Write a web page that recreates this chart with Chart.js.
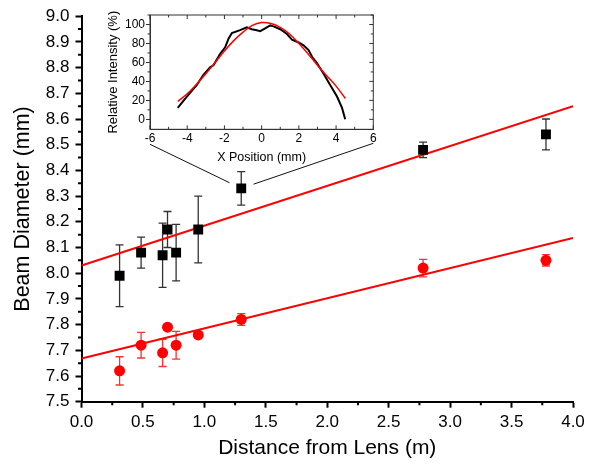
<!DOCTYPE html>
<html>
<head>
<meta charset="utf-8">
<script src="https://cdn.jsdelivr.net/npm/chart.js@4/dist/chart.umd.min.js"></script>
<style>
  body { margin: 0; background: #fff; }
  #wrap { position: relative; width: 593px; height: 467px; }
  #main { position: absolute; left: 0; top: 0; }
  #inset { position: absolute; left: 95px; top: 5px; }
</style>
</head>
<body>
<div id="wrap">
  <canvas id="main" width="593" height="467"></canvas>
  <canvas id="inset" width="290" height="165"></canvas>
</div>
<script>
// main plot: beam diameter vs distance
const distance = [0.31, 0.485, 0.66, 0.70, 0.77, 0.95, 1.30, 2.78, 3.78];
const squareDiam = [7.99, 8.08, 8.07, 8.17, 8.08, 8.17, 8.33, 8.48, 8.54];
const squareErr = [0.12, 0.06, 0.125, 0.07, 0.11, 0.13, 0.065, 0.03, 0.06];
const circleDiam = [7.62, 7.72, 7.69, 7.79, 7.72, 7.76, 7.82, 8.02, 8.05];
const circleErr = [0.055, 0.05, 0.053, 0.01, 0.054, 0.01, 0.023, 0.034, 0.022];

// linear fits
const fitDist = [0, 4];
const squareFit = [8.03, 8.65];
const circleFit = [7.668, 8.137];

// inset: beam profile at 1.3 m
const profileX = [-4.51, -4.02, -3.49, -3.13, -2.77, -2.59, -2.23, -1.96, -1.78, -1.60, -1.16, -0.80,
  -0.53, -0.26, -0.08, 0.19, 0.46, 0.64, 1.00, 1.36, 1.63, 1.99, 2.25, 2.52, 2.71, 2.98, 3.33, 3.69,
  4.05, 4.32, 4.49];
const profileI = [12, 24, 36, 47, 55, 57, 69, 76, 85, 91, 94, 97,
  95, 94, 93, 96, 99, 98, 95, 90, 84, 81, 78, 73, 66, 59, 48, 36,
  24, 12, 0];
const gaussX = [-4.5, -4, -3.5, -3, -2.5, -2, -1.5, -1, -0.5, 0, 0.5, 1, 1.5, 2, 2.5, 3, 3.5, 4, 4.5];
const gaussI = [19, 27, 37, 48, 60, 72, 83, 92, 99, 102, 101, 97, 90, 80, 69, 57, 46, 35, 22];
const zoomIndex = 6; // point the inset belongs to

const font = "Arial, 'Liberation Sans', sans-serif";
const pts = (xs, ys) => xs.map((x, i) => ({ x, y: ys[i] }));

// vertical error bars with caps, drawn under the markers
const errorBars = {
  id: "errorBars",
  beforeDatasetsDraw(chart) {
    const { ctx, scales: { x, y } } = chart;
    ctx.save();
    chart.data.datasets.forEach(ds => {
      if (!ds.errors) return;
      ctx.strokeStyle = ds.errorColor;
      ctx.lineWidth = 1.3;
      ds.data.forEach((p, i) => {
        const px = x.getPixelForValue(p.x);
        const top = y.getPixelForValue(p.y + ds.errors[i]);
        const bot = y.getPixelForValue(p.y - ds.errors[i]);
        ctx.beginPath();
        ctx.moveTo(px, top); ctx.lineTo(px, bot);
        ctx.moveTo(px - 4, top); ctx.lineTo(px + 4, top);
        ctx.moveTo(px - 4, bot); ctx.lineTo(px + 4, bot);
        ctx.stroke();
      });
    });
    ctx.restore();
  }
};

// minor ticks and connector lines to the inset
const mainExtras = {
  id: "mainExtras",
  afterDraw(chart) {
    const { ctx, chartArea: a, scales: { x, y } } = chart;
    ctx.save();
    ctx.strokeStyle = "#000";
    ctx.lineWidth = 2;
    ctx.beginPath();
    for (let v = 0.25; v < 4; v += 0.5) {
      const px = x.getPixelForValue(v);
      ctx.moveTo(px, a.bottom); ctx.lineTo(px, a.bottom + 3.5);
    }
    for (let v = 7.55; v < 9; v += 0.1) {
      const py = y.getPixelForValue(v);
      ctx.moveTo(a.left, py); ctx.lineTo(a.left - 3.5, py);
    }
    ctx.stroke();

    if (insetChart) {
      const ia = insetChart.chartArea;
      const ox = insetCanvas.offsetLeft, oy = insetCanvas.offsetTop;
      const tx = x.getPixelForValue(distance[zoomIndex]);
      const ty = y.getPixelForValue(squareDiam[zoomIndex]);
      ctx.strokeStyle = "#111";
      ctx.lineWidth = 1;
      [[ox + ia.left, oy + ia.bottom + 15], [ox + ia.right, oy + ia.bottom + 14]].forEach(([sx, sy]) => {
        const d = Math.hypot(tx - sx, ty - sy);
        const k = (d - 13) / d;
        ctx.beginPath();
        ctx.moveTo(sx, sy);
        ctx.lineTo(sx + (tx - sx) * k, sy + (ty - sy) * k);
        ctx.stroke();
      });
    }
    ctx.restore();
  }
};

// frame and inward ticks for the inset
const insetExtras = {
  id: "insetExtras",
  afterDraw(chart) {
    const { ctx, chartArea: a, scales: { x, y } } = chart;
    ctx.save();
    ctx.strokeStyle = "#333";
    ctx.lineWidth = 1;
    ctx.strokeRect(a.left, a.top, a.right - a.left, a.bottom - a.top);
    ctx.beginPath();
    for (let v = -6; v <= 6; v += 1) {
      const px = x.getPixelForValue(v);
      const len = v % 2 === 0 ? 4 : 2.5;
      ctx.moveTo(px, a.bottom); ctx.lineTo(px, a.bottom - len);
      ctx.moveTo(px, a.top); ctx.lineTo(px, a.top + len);
    }
    for (let v = 0; v <= 110; v += 10) {
      const py = y.getPixelForValue(v);
      const len = v % 20 === 0 ? 4 : 2.5;
      ctx.moveTo(a.right, py); ctx.lineTo(a.right - len, py);
      if (v % 20 !== 0) { ctx.moveTo(a.left, py); ctx.lineTo(a.left - 2.5, py); }
    }
    ctx.stroke();
    ctx.restore();
  }
};

const insetCanvas = document.getElementById("inset");
const insetChart = new Chart(insetCanvas, {
  type: "line",
  data: {
    datasets: [
      { data: pts(gaussX, gaussI), borderColor: "#ff0000", borderWidth: 1.5, pointRadius: 0, tension: 0.4 },
      { data: pts(profileX, profileI), borderColor: "#000", borderWidth: 2, pointRadius: 0, tension: 0 }
    ]
  },
  options: {
    responsive: false,
    animation: false,
    layout: { padding: { left: 0, top: 10, right: 11.7, bottom: 0 } },
    plugins: { legend: { display: false }, tooltip: { enabled: false } },
    scales: {
      x: {
        type: "linear", min: -6, max: 6,
        ticks: { stepSize: 2, padding: 2, color: "#000", font: { family: font, size: 12 } },
        grid: { drawOnChartArea: false, drawTicks: false },
        border: { color: "#333" },
        title: { display: true, text: "X Position (mm)", color: "#000", padding: { top: 0, bottom: 4.8 }, font: { family: font, size: 12.5 } },
        afterFit(s) { s.height = 40.7; }
      },
      y: {
        min: -10.5, max: 110,
        afterBuildTicks(s) { s.ticks = [0, 20, 40, 60, 80, 100].map(value => ({ value })); },
        ticks: { padding: 1, color: "#000", font: { family: font, size: 12 } },
        grid: { drawOnChartArea: false, tickLength: 4, tickColor: "#333" },
        border: { color: "#333" },
        title: { display: true, text: "Relative Intensity (%)", color: "#000", padding: { top: 10.8, bottom: 0 }, font: { family: font, size: 13 } },
        afterFit(s) { s.width = 55; }
      }
    }
  },
  plugins: [insetExtras]
});

new Chart(document.getElementById("main"), {
  type: "scatter",
  data: {
    datasets: [
      { data: pts(distance, squareDiam), errors: squareErr, errorColor: "#333", pointStyle: "rect",
        pointRadius: 7, backgroundColor: "#000", borderColor: "#000", borderWidth: 0 },
      { data: pts(distance, circleDiam), errors: circleErr, errorColor: "#ff3030", pointStyle: "circle",
        pointRadius: 5.5, backgroundColor: "#ff0000", borderColor: "#ff0000", borderWidth: 0 },
      { type: "line", data: pts(fitDist, squareFit), borderColor: "#ff0000", borderWidth: 2, pointRadius: 0 },
      { type: "line", data: pts(fitDist, circleFit), borderColor: "#ff0000", borderWidth: 2, pointRadius: 0 }
    ]
  },
  options: {
    responsive: false,
    animation: false,
    layout: { padding: { left: 0, top: 14, right: 20, bottom: 0 } },
    plugins: { legend: { display: false }, tooltip: { enabled: false } },
    scales: {
      x: {
        type: "linear", min: 0, max: 4,
        ticks: { stepSize: 0.5, padding: 4, color: "#000", font: { family: font, size: 17 },
          callback: v => v.toFixed(1) },
        grid: { drawOnChartArea: false, tickLength: 6, tickWidth: 2, tickColor: "#000" },
        border: { color: "#000", width: 2 },
        title: { display: true, text: "Distance from Lens (m)", color: "#000", padding: { top: 0, bottom: 6 }, font: { family: font, size: 21 } },
        afterFit(s) { s.height = 65.3; }
      },
      y: {
        min: 7.5, max: 9.0,
        ticks: { stepSize: 0.1, padding: 6, color: "#000", font: { family: font, size: 17 },
          callback: v => v.toFixed(1) },
        grid: { drawOnChartArea: false, tickLength: 6, tickWidth: 2, tickColor: "#000" },
        border: { color: "#000", width: 2 },
        title: { display: true, text: "Beam Diameter (mm)", color: "#000", padding: { top: 10, bottom: 0 }, font: { family: font, size: 21.5 } },
        afterFit(s) { s.width = 81.5; }
      }
    }
  },
  plugins: [errorBars, mainExtras]
});
</script>
</body>
</html>
